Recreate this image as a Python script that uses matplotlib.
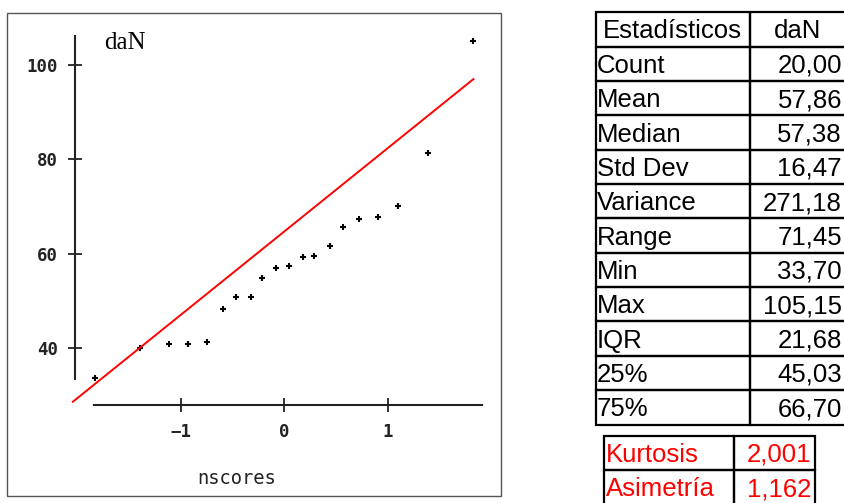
import matplotlib
matplotlib.use("Agg")
import matplotlib.pyplot as plt
from matplotlib.patches import Rectangle

# datos
nscores = [-1.83, -1.39, -1.11, -0.93, -0.74, -0.59, -0.46, -0.32, -0.21, -0.08,
           0.05, 0.18, 0.29, 0.44, 0.57, 0.72, 0.91, 1.10, 1.39, 1.83]
daN = [33.7, 40.0, 40.8, 40.8, 41.3, 48.3, 50.9, 50.9, 54.8, 57.0,
       57.4, 59.2, 59.6, 61.7, 65.6, 67.3, 67.7, 70.0, 81.3, 105.0]
recta_x = [-2.04, 1.83]
recta_y = [28.6, 97.0]

x_ticks = [-1, 0, 1]
y_ticks = [40, 60, 80, 100]

stat_names = ["Count", "Mean", "Median", "Std Dev", "Variance", "Range",
              "Min", "Max", "IQR", "25%", "75%"]
stat_vals = ["20,00", "57,86", "57,38", "16,47", "271,18", "71,45",
             "33,70", "105,15", "21,68", "45,03", "66,70"]
extra_names = ["Kurtosis", "Asimetría"]
extra_vals = ["2,001", "1,162"]

W, H = 845, 503
fig = plt.figure(figsize=(W / 100, H / 100), dpi=100)

# escala en pixeles del grafico original
x0, y0 = -2.1, 26
x1, y1 = 2.0, 108
px = lambda x: 284 + 103.5 * x
py = lambda y: 348 - 4.717 * (y - 40)
ax = fig.add_axes([px(x0) / W, (H - py(y0)) / H,
                   (px(x1) - px(x0)) / W, (py(y0) - py(y1)) / H])
ax.set_xlim(x0, x1)
ax.set_ylim(y0, y1)
ax.patch.set_alpha(0)

ax.plot(nscores, daN, "+", color="black", ms=4.5, mew=1.5)
ax.plot(recta_x, recta_y, color="red", lw=1.4)

for s in ["top", "right"]:
    ax.spines[s].set_visible(False)
ax.spines["left"].set_position(("data", -2.02))
ax.spines["left"].set_bounds(33.4, 106.1)
ax.spines["bottom"].set_position(("data", 27.9))
ax.spines["bottom"].set_bounds(-1.836, 1.913)
for s in ["left", "bottom"]:
    ax.spines[s].set_linewidth(1.5)
    ax.spines[s].set_color("#222222")

ax.set_xticks(x_ticks)
ax.set_yticks(y_ticks)
mono = "DejaVu Sans Mono"
ax.tick_params(direction="inout", length=10, width=1.3, color="#222222",
               labelsize=12.5, labelcolor="#222222")
ax.tick_params(axis="y", pad=7)
ax.tick_params(axis="x", pad=8)
ax.set_xticklabels(["\u22121", "0", "1"])
for lab in ax.get_xticklabels() + ax.get_yticklabels():
    lab.set_family(mono)
    lab.set_weight("bold")

# overlay para marco, textos y tablas en pixeles
ov = fig.add_axes([0, 0, 1, 1])
ov.set_xlim(0, W)
ov.set_ylim(H, 0)
ov.axis("off")
ov.patch.set_alpha(0)

ov.add_patch(Rectangle((7, 13), 494, 483, fill=False, ec="#555555", lw=1))
ov.text(104, 43, "daN", family="Liberation Serif", fontsize=18, va="center")
ov.text(237, 479, "nscores", family=mono, fontsize=13.5, ha="center",
        va="center", color="#222222")

# tabla de estadisticos
c0, c1, c2 = 595.7, 750, 848
top, rh = 12.3, 34.35
lw = 1.6
fs = 18.5
dy = 2
ov.add_patch(Rectangle((c0, top), c1 - c0, rh, fill=False, lw=lw, ec="black"))
ov.add_patch(Rectangle((c1, top), c2 - c1, rh, fill=False, lw=lw, ec="black"))
ov.text((c0 + c1) / 2, top + rh / 2 + dy, "Estadísticos", family="Liberation Sans",
        fontsize=fs, ha="center", va="center")
ov.text((c1 + 845) / 2, top + rh / 2 + dy, "daN", family="Liberation Sans",
        fontsize=fs, ha="center", va="center")
for i, (n, v) in enumerate(zip(stat_names, stat_vals)):
    yy = top + rh * (i + 1)
    ov.add_patch(Rectangle((c0, yy), c1 - c0, rh, fill=False, lw=lw, ec="black"))
    ov.add_patch(Rectangle((c1, yy), c2 - c1, rh, fill=False, lw=lw, ec="black"))
    ov.text(c0 + 1, yy + rh / 2 + dy, n, family="Liberation Sans", fontsize=fs,
            ha="left", va="center")
    ov.text(842, yy + rh / 2 + dy, v, family="Liberation Sans", fontsize=fs,
            ha="right", va="center")

# kurtosis y asimetria
k0, k1, k2 = 604.3, 734.3, 815
ktop = 435.7
for i, (n, v) in enumerate(zip(extra_names, extra_vals)):
    yy = ktop + rh * i
    ov.add_patch(Rectangle((k0, yy), k1 - k0, rh, fill=False, lw=lw, ec="black"))
    ov.add_patch(Rectangle((k1, yy), k2 - k1, rh, fill=False, lw=lw, ec="black"))
    ov.text(k0 + 2, yy + rh / 2 + dy, n, family="Liberation Sans", fontsize=fs,
            color="red", ha="left", va="center")
    ov.text(k2 - 4, yy + rh / 2 + dy, v, family="Liberation Sans", fontsize=fs,
            color="red", ha="right", va="center")

fig.savefig("out.png", dpi=100)
